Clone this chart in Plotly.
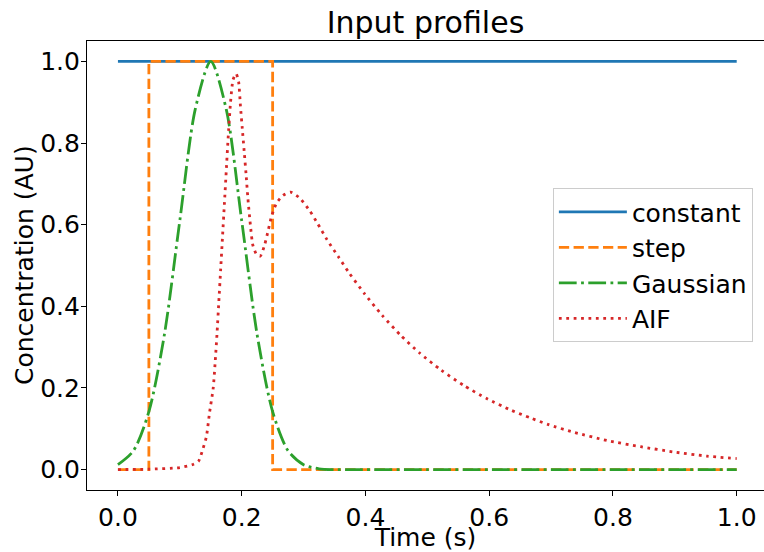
import plotly.graph_objects as go

# ---- data ----
const_t = [0.0, 1.0]
const_v = [1.0, 1.0]

step_t = [0.0, 0.05, 0.05, 0.25, 0.25, 1.0]
step_v = [0.0, 0.0, 1.0, 1.0, 0.0, 0.0]

gauss_t = [0.0, 0.025, 0.05, 0.075, 0.1, 0.125, 0.15, 0.175, 0.2, 0.225,
           0.25, 0.275, 0.3, 0.325, 0.35, 0.375, 0.4, 0.5, 0.6, 0.7, 0.8, 0.9, 1.0]
gauss_v = [0.012, 0.046, 0.142, 0.33, 0.61, 0.883, 1.0, 0.883, 0.61, 0.33,
           0.142, 0.046, 0.012, 0.002, 0.0, 0.0, 0.0, 0.0, 0.0, 0.0, 0.0, 0.0, 0.0]

aif_t = [0.0, 0.05, 0.10, 0.12, 0.13, 0.137, 0.143, 0.148, 0.154, 0.157,
         0.16, 0.163, 0.166, 0.169, 0.172, 0.175, 0.178, 0.182, 0.186, 0.191,
         0.195, 0.198, 0.201, 0.204, 0.207, 0.21, 0.214, 0.218, 0.224, 0.23,
         0.237, 0.243, 0.248, 0.256, 0.267, 0.279, 0.294, 0.31, 0.323, 0.338,
         0.356, 0.374, 0.399, 0.427, 0.457, 0.488, 0.522, 0.559, 0.596, 0.636,
         0.666, 0.696, 0.738, 0.791, 0.845, 0.899, 0.952, 1.0]
aif_v = [0.0, 0.001, 0.005, 0.012, 0.02, 0.049, 0.081, 0.139, 0.2, 0.26,
         0.33, 0.41, 0.49, 0.57, 0.65, 0.73, 0.81, 0.9, 0.955, 0.97,
         0.95, 0.89, 0.835, 0.78, 0.725, 0.665, 0.6, 0.55, 0.527, 0.523,
         0.55, 0.587, 0.619, 0.652, 0.672, 0.68, 0.665, 0.634, 0.602, 0.563,
         0.522, 0.481, 0.43, 0.378, 0.329, 0.285, 0.244, 0.206, 0.174, 0.145,
         0.127, 0.11, 0.091, 0.071, 0.056, 0.043, 0.033, 0.027]

x_ticks = [0.0, 0.2, 0.4, 0.6, 0.8, 1.0]
y_ticks = [0.0, 0.2, 0.4, 0.6, 0.8, 1.0]

FONT = "DejaVu Sans"
LW = 2.8
PLOT_W = 676.6

fig = go.Figure()
fig.add_trace(go.Scatter(x=const_t, y=const_v, mode="lines", name="constant",
                         legendgroup="a",
                         line=dict(color="#1f77b4", width=LW)))
fig.add_trace(go.Scatter(x=step_t, y=step_v, mode="lines", name="step",
                         legendgroup="b",
                         line=dict(color="#ff7f0e", width=LW, dash="10.3px,4.4px")))
fig.add_trace(go.Scatter(x=gauss_t, y=gauss_v, mode="lines", name="Gaussian",
                         legendgroup="c",
                         line=dict(color="#2ca02c", width=LW, shape="spline", smoothing=0.8,
                                   dash="17.8px,4.4px,2.8px,4.4px")))
fig.add_trace(go.Scatter(x=aif_t, y=aif_v, mode="lines", name="AIF",
                         legendgroup="d",
                         line=dict(color="#d62728", width=LW, shape="spline", smoothing=0.6,
                                   dash="2.8px,4.6px")))

fig.update_layout(
    width=764, height=552,
    margin=dict(l=87.4, r=0, t=40.5, b=61.5),
    paper_bgcolor="white", plot_bgcolor="white",
    font=dict(family=FONT, size=25, color="black"),
    title=dict(text="Input profiles", font=dict(size=30, family=FONT, color="black"),
               x=0.5, xref="paper", xanchor="center",
               y=1 - 22 / 552, yref="container", yanchor="middle"),
    legend=dict(x=(553 - 87.4) / PLOT_W, xanchor="left",
                y=(490.5 - 188) / 450, yanchor="top",
                bgcolor="rgba(255,255,255,0.8)", bordercolor="#cccccc", borderwidth=1,
                font=dict(size=25, family=FONT), tracegroupgap=0, itemwidth=68),
    showlegend=True,
    annotations=[dict(text="Concentration (AU)", textangle=-90,
                      x=(25 - 87.4) / PLOT_W, xref="paper", xanchor="center",
                      y=0.5, yref="paper", yanchor="middle", showarrow=False,
                      font=dict(size=25, family=FONT, color="black"))],
)
fig.update_xaxes(range=[-0.05, -0.05 + PLOT_W / 618.4], tickvals=x_ticks,
                 ticktext=[f"{v:.1f}" for v in x_ticks],
                 showgrid=False, zeroline=False, showline=True, mirror=True,
                 linecolor="black", linewidth=1.1, ticks="outside", ticklen=5,
                 tickwidth=1.1, tickcolor="black",
                 title=dict(text="Time (s)", standoff=2, font=dict(size=25, family=FONT)))
fig.update_yaxes(range=[-0.05, 1.05], tickvals=y_ticks,
                 ticktext=[f"{v:.1f}" for v in y_ticks],
                 showgrid=False, zeroline=False, showline=True, mirror=False,
                 linecolor="black", linewidth=1.1, ticks="outside", ticklen=5,
                 tickwidth=1.1, tickcolor="black", ticklabelstandoff=-4)

fig.write_html("out.html")
